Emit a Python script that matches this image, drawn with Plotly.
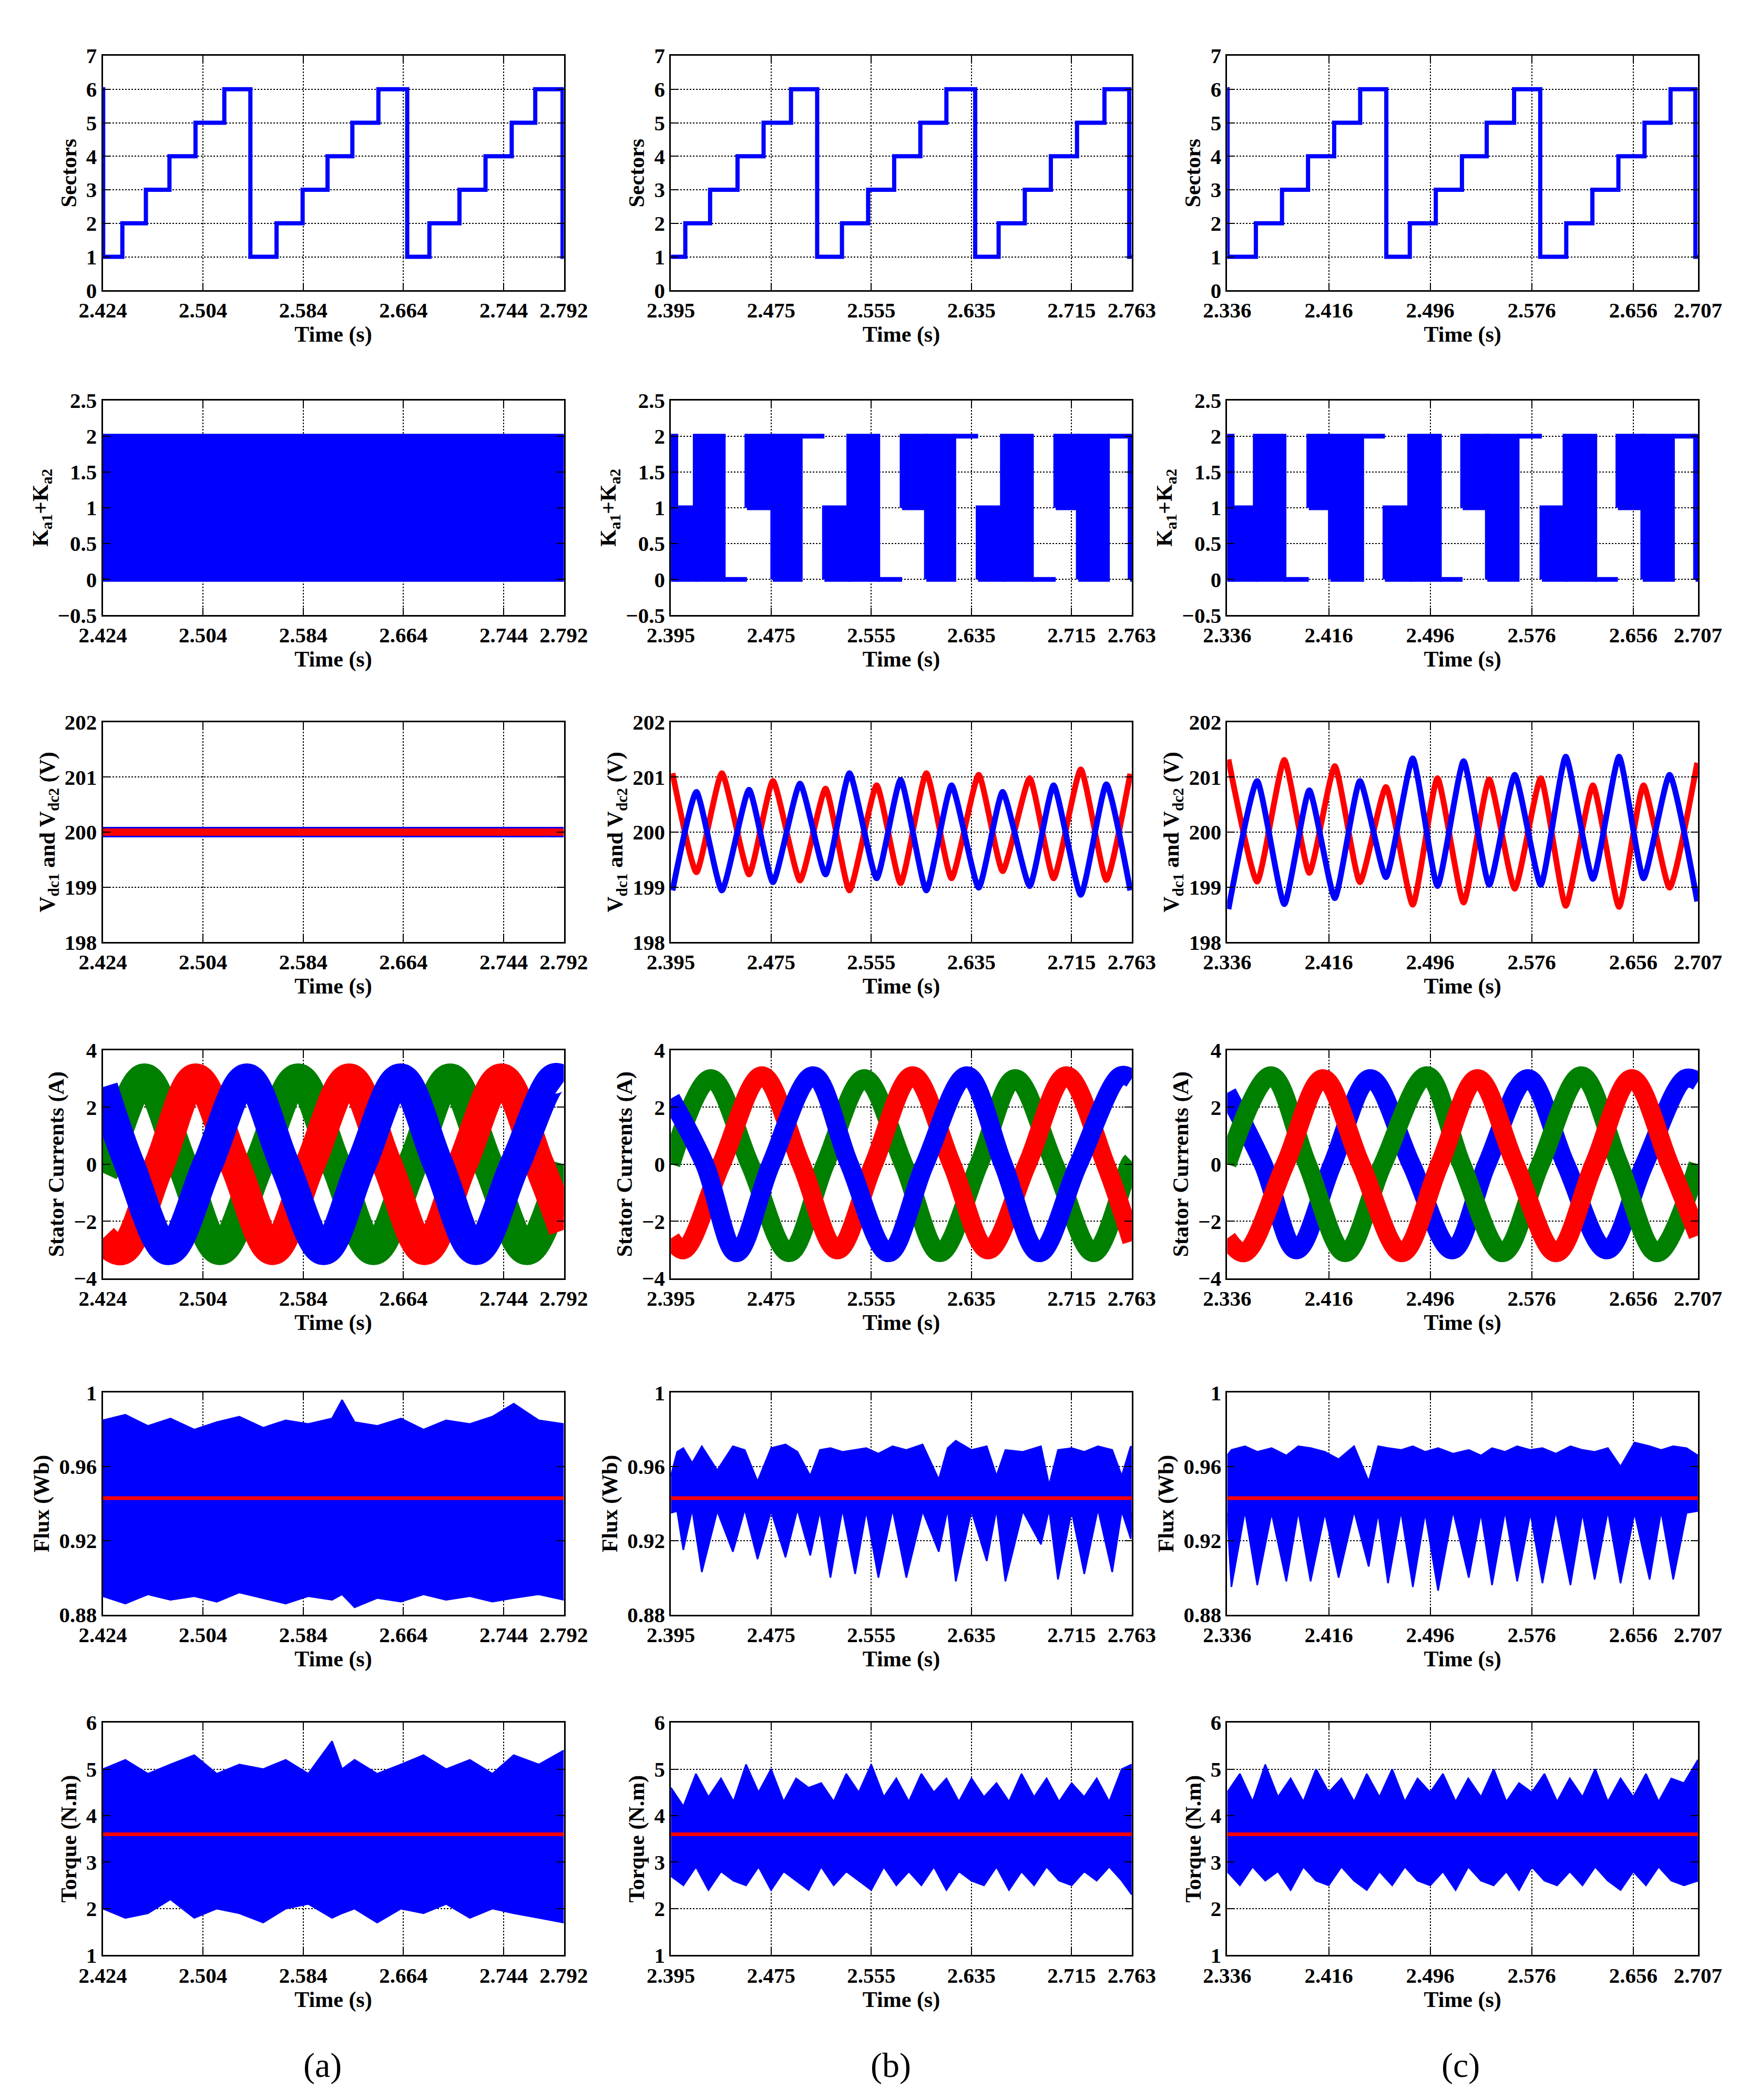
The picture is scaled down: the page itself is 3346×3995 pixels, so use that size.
import plotly.graph_objects as go
from plotly.subplots import make_subplots

# ---------------- DATA ----------------
x_ranges = [(2.424, 2.792), (2.395, 2.763), (2.336, 2.707)]
x_ticks = [[2.424, 2.504, 2.584, 2.664, 2.744, 2.792],
           [2.395, 2.475, 2.555, 2.635, 2.715, 2.763],
           [2.336, 2.416, 2.496, 2.576, 2.656, 2.707]]
panel_labels = ["(a)", "(b)", "(c)"]

# Sectors (step signal)
sec_a_t = [2.424, 2.4243, 2.4396, 2.4584, 2.4772, 2.498, 2.521, 2.5418, 2.5627, 2.5835, 2.6034, 2.6232, 2.644, 2.667, 2.6847, 2.7087, 2.7295, 2.7504, 2.7692, 2.791, 2.792]
sec_a_v = [6, 1, 2, 3, 4, 5, 6, 1, 2, 3, 4, 5, 6, 1, 2, 3, 4, 5, 6, 1, 1]
sec_b_t = [2.395, 2.4065, 2.4263, 2.4482, 2.469, 2.4909, 2.5118, 2.5316, 2.5525, 2.5733, 2.5942, 2.6150, 2.6380, 2.6567, 2.6776, 2.6984, 2.7193, 2.7412, 2.761, 2.763]
sec_b_v = [1, 2, 3, 4, 5, 6, 1, 2, 3, 4, 5, 6, 1, 2, 3, 4, 5, 6, 1, 1]
sec_c_t = [2.336, 2.3363, 2.3586, 2.3792, 2.3997, 2.4203, 2.4408, 2.4614, 2.4799, 2.5004, 2.521, 2.5405, 2.5621, 2.5827, 2.6032, 2.6238, 2.6443, 2.6649, 2.6854, 2.705, 2.707]
sec_c_v = [6, 1, 2, 3, 4, 5, 6, 1, 2, 3, 4, 5, 6, 1, 2, 3, 4, 5, 6, 1, 1]

# Ka1+Ka2 segments: start, end, low, high (filled switching band between low and high)
ka_a_start = [2.424]
ka_a_end = [2.792]
ka_a_lo = [0]
ka_a_hi = [2]
ka_b_start = [2.395, 2.3989, 2.4144, 2.4368, 2.4557, 2.4763, 2.4983, 2.5176, 2.5370, 2.5602, 2.5796, 2.5990, 2.6209, 2.6403, 2.6597, 2.6829, 2.7023, 2.7203, 2.7436, 2.7617]
ka_b_end = [2.3989, 2.4144, 2.4368, 2.4557, 2.4763, 2.4983, 2.5176, 2.5370, 2.5602, 2.5796, 2.5990, 2.6209, 2.6403, 2.6597, 2.6829, 2.7023, 2.7203, 2.7436, 2.7617, 2.763]
ka_b_lo = [0, 0, 0, 0, 1, 0, 2, 0, 0, 0, 1, 0, 2, 0, 0, 0, 1, 0, 2, 0]
ka_b_hi = [2, 1, 2, 0, 2, 2, 2, 1, 2, 0, 2, 2, 2, 1, 2, 0, 2, 2, 2, 2]
ka_c_start = [2.336, 2.3399, 2.3581, 2.3808, 2.4003, 2.4173, 2.4420, 2.4603, 2.4798, 2.5032, 2.5215, 2.5410, 2.5645, 2.5840, 2.6022, 2.6257, 2.6439, 2.6635, 2.6869, 2.7051]
ka_c_end = [2.3399, 2.3581, 2.3808, 2.4003, 2.4173, 2.4420, 2.4603, 2.4798, 2.5032, 2.5215, 2.5410, 2.5645, 2.5840, 2.6022, 2.6257, 2.6439, 2.6635, 2.6869, 2.7051, 2.707]
ka_c_lo = [0, 0, 0, 0, 1, 0, 2, 0, 0, 0, 1, 0, 2, 0, 0, 0, 1, 0, 2, 0]
ka_c_hi = [2, 1, 2, 0, 2, 2, 2, 1, 2, 0, 2, 2, 2, 1, 2, 0, 2, 2, 2, 2]

# DC-link voltages
vdc_a_t = [2.424, 2.500, 2.600, 2.700, 2.792]
vdc_a_v1 = [200.0, 200.0, 200.0, 200.0, 200.0]
vdc_a_v2 = [200.0, 200.0, 200.0, 200.0, 200.0]
vdc_b_t = [2.3963, 2.4154, 2.4357, 2.4574, 2.4765, 2.4981, 2.5185, 2.5376, 2.5593, 2.5784, 2.5990, 2.6191, 2.6408, 2.6599, 2.6815, 2.7006, 2.7223, 2.7427, 2.7618]
vdc_b_red = [201.07, 199.27, 201.07, 199.23, 200.93, 199.12, 200.79, 198.94, 200.85, 199.07, 201.07, 199.16, 201.04, 199.29, 200.98, 199.16, 201.14, 199.13, 201.06]
vdc_b_blue = [198.94, 200.73, 198.94, 200.77, 199.09, 200.88, 199.23, 201.07, 199.16, 200.95, 198.94, 200.85, 198.99, 200.73, 199.02, 200.85, 198.86, 200.87, 198.94]
vdc_c_t = [2.3370, 2.3596, 2.3810, 2.4007, 2.4208, 2.4406, 2.4611, 2.4822, 2.5017, 2.5223, 2.5425, 2.5626, 2.5831, 2.6028, 2.6242, 2.6448, 2.6641, 2.6846, 2.7064]
vdc_c_red = [201.32, 199.10, 201.31, 199.26, 201.20, 199.09, 200.82, 198.68, 200.98, 198.72, 200.96, 198.97, 200.98, 198.66, 200.85, 198.64, 200.85, 198.99, 201.26]
vdc_c_blue = [198.60, 200.93, 198.69, 200.76, 198.80, 200.93, 199.18, 201.34, 199.02, 201.29, 199.04, 201.04, 199.04, 201.37, 199.15, 201.37, 199.16, 201.04, 198.74]

# Stator currents (extrema and zero crossings)
ia_blue_t = [2.4240, 2.4452, 2.4764, 2.5077, 2.5390, 2.5690, 2.6003, 2.6303, 2.6616, 2.6917, 2.7217, 2.7530, 2.7843, 2.7920]
ia_blue_v = [2.7, 0, -3, 0, 3, 0, -3, 0, 3, 0, -3, 0, 3, 2.9]
ia_green_t = [2.4240, 2.4271, 2.4572, 2.4873, 2.5173, 2.5486, 2.5798, 2.6099, 2.6400, 2.6712, 2.7013, 2.7314, 2.7626, 2.7920]
ia_green_v = [-0.3, 0, 3, 0, -3, 0, 3, 0, -3, 0, 3, 0, -3, 0]
ia_red_t = [2.4240, 2.4392, 2.4692, 2.4981, 2.5293, 2.5594, 2.5895, 2.6207, 2.6508, 2.6808, 2.7109, 2.7422, 2.7722, 2.7920]
ia_red_v = [-2.6, -3, 0, 3, 0, -3, 0, 3, 0, -3, 0, 3, 0, -2.3]
ib_blue_t = [2.3950, 2.4220, 2.4472, 2.4749, 2.5086, 2.5375, 2.5688, 2.5977, 2.6314, 2.6603, 2.6891, 2.7204, 2.7541, 2.7630]
ib_blue_v = [2.3, 0, -3.1, 0, 3.1, 0, -3.1, 0, 3.1, 0, -3.1, 0, 3.1, 3.0]
ib_green_t = [2.3950, 2.4268, 2.4581, 2.4894, 2.5182, 2.5495, 2.5808, 2.6097, 2.6410, 2.6699, 2.7012, 2.7325, 2.7613, 2.7630]
ib_green_v = [0, 3.0, 0, -3.1, 0, 3.0, 0, -3.1, 0, 3.0, 0, -3.1, 0, 0.1]
ib_red_t = [2.3950, 2.4051, 2.4352, 2.4677, 2.4990, 2.5279, 2.5568, 2.5880, 2.6193, 2.6482, 2.6795, 2.7108, 2.7421, 2.7630]
ib_red_v = [-2.6, -3.0, 0, 3.1, 0, -3.0, 0, 3.1, 0, -3.0, 0, 3.1, 0, -2.7]
ic_blue_t = [2.3360, 2.3643, 2.3904, 2.4189, 2.4487, 2.4810, 2.5133, 2.5406, 2.5729, 2.6027, 2.6350, 2.6648, 2.6970, 2.7070]
ic_blue_v = [2.5, 0, -3.0, 0, 3.0, 0, -3.0, 0, 3.0, 0, -3.0, 0, 3.0, 2.9]
ic_green_t = [2.3360, 2.3705, 2.3991, 2.4289, 2.4587, 2.4934, 2.5207, 2.5530, 2.5828, 2.6151, 2.6449, 2.6747, 2.7070]
ic_green_v = [0, 3.1, 0, -3.1, 0, 3.1, 0, -3.1, 0, 3.1, 0, -3.1, 0]
ic_red_t = [2.3360, 2.3494, 2.3817, 2.4115, 2.4413, 2.4736, 2.5034, 2.5332, 2.5630, 2.5952, 2.6250, 2.6548, 2.6846, 2.7070]
ic_red_v = [-2.6, -3.1, 0, 3.0, 0, -3.1, 0, 3.0, 0, -3.1, 0, 3.0, 0, -2.5]

# Flux envelopes
flux_ref = 0.943
flux_a_t = [2.424, 2.442, 2.460, 2.478, 2.497, 2.515, 2.533, 2.552, 2.570, 2.588, 2.607, 2.615, 2.625, 2.643, 2.662, 2.680, 2.698, 2.717, 2.735, 2.752, 2.772, 2.792]
flux_a_hi = [0.985, 0.988, 0.982, 0.986, 0.980, 0.984, 0.987, 0.981, 0.985, 0.983, 0.986, 0.996, 0.984, 0.982, 0.986, 0.980, 0.985, 0.983, 0.987, 0.994, 0.985, 0.983]
flux_a_lo = [0.890, 0.886, 0.891, 0.888, 0.890, 0.887, 0.892, 0.889, 0.886, 0.890, 0.888, 0.891, 0.884, 0.889, 0.887, 0.891, 0.888, 0.890, 0.887, 0.889, 0.891, 0.888]
flux_b_t = [2.395, 2.400, 2.4049, 2.412, 2.4197, 2.432, 2.4445, 2.454, 2.4642, 2.475, 2.4865, 2.496, 2.5063, 2.514, 2.5224, 2.532, 2.5421, 2.551, 2.5607, 2.572, 2.5830, 2.596, 2.6089, 2.616, 2.6225, 2.635, 2.6472, 2.655, 2.6621, 2.676, 2.6905, 2.697, 2.7041, 2.715, 2.7251, 2.736, 2.7474, 2.755, 2.7622, 2.763]
flux_b_lo = [0.935, 0.936, 0.915, 0.937, 0.903, 0.936, 0.914, 0.937, 0.910, 0.936, 0.911, 0.937, 0.912, 0.936, 0.900, 0.937, 0.902, 0.936, 0.900, 0.937, 0.900, 0.936, 0.914, 0.937, 0.898, 0.936, 0.909, 0.937, 0.898, 0.936, 0.918, 0.937, 0.899, 0.936, 0.902, 0.937, 0.903, 0.936, 0.921, 0.935]
flux_b_hi = [0.955, 0.968, 0.970, 0.962, 0.971, 0.958, 0.971, 0.969, 0.952, 0.970, 0.972, 0.968, 0.955, 0.969, 0.970, 0.968, 0.969, 0.970, 0.967, 0.971, 0.969, 0.972, 0.953, 0.970, 0.974, 0.969, 0.971, 0.955, 0.969, 0.968, 0.971, 0.950, 0.969, 0.970, 0.968, 0.971, 0.969, 0.955, 0.971, 0.970]
flux_c_t = [2.336, 2.3393, 2.350, 2.3597, 2.371, 2.3826, 2.392, 2.4017, 2.413, 2.4238, 2.436, 2.4475, 2.455, 2.4627, 2.473, 2.4823, 2.492, 2.5022, 2.514, 2.5264, 2.536, 2.5447, 2.555, 2.5645, 2.575, 2.5844, 2.595, 2.6065, 2.616, 2.6256, 2.636, 2.6460, 2.657, 2.6689, 2.678, 2.6875, 2.698, 2.707]
flux_c_lo = [0.935, 0.895, 0.936, 0.896, 0.935, 0.898, 0.936, 0.898, 0.935, 0.900, 0.936, 0.906, 0.935, 0.897, 0.936, 0.895, 0.935, 0.893, 0.936, 0.900, 0.935, 0.896, 0.936, 0.898, 0.935, 0.897, 0.936, 0.896, 0.935, 0.899, 0.936, 0.897, 0.935, 0.899, 0.936, 0.899, 0.935, 0.936]
flux_c_hi = [0.966, 0.969, 0.971, 0.968, 0.970, 0.966, 0.971, 0.970, 0.968, 0.964, 0.971, 0.952, 0.971, 0.970, 0.969, 0.971, 0.968, 0.970, 0.967, 0.969, 0.966, 0.970, 0.968, 0.971, 0.969, 0.970, 0.967, 0.971, 0.969, 0.968, 0.970, 0.960, 0.973, 0.971, 0.969, 0.971, 0.970, 0.966]

# Torque envelopes
torque_ref = 3.6
tq_a_t = flux_a_t
tq_a_hi = [5.0, 5.2, 4.9, 5.1, 5.3, 4.9, 5.1, 5.0, 5.2, 4.9, 5.6, 5.0, 5.2, 4.9, 5.1, 5.3, 5.0, 5.2, 4.9, 5.3, 5.1, 5.4]
tq_a_lo = [2.0, 1.8, 1.9, 2.2, 1.8, 2.0, 1.9, 1.7, 2.0, 2.1, 1.8, 1.9, 2.0, 1.7, 2.0, 1.9, 2.1, 1.8, 2.0, 1.9, 1.8, 1.7]
tq_b_t = [2.395, 2.405, 2.415, 2.425, 2.435, 2.445, 2.455, 2.465, 2.475, 2.485, 2.495, 2.505, 2.515, 2.525, 2.535, 2.545, 2.555, 2.565, 2.575, 2.585, 2.595, 2.605, 2.615, 2.625, 2.635, 2.645, 2.655, 2.665, 2.675, 2.685, 2.695, 2.705, 2.715, 2.725, 2.735, 2.745, 2.755, 2.763]
tq_b_hi = [4.6, 4.2, 4.9, 4.4, 4.8, 4.3, 5.1, 4.5, 5.0, 4.3, 4.8, 4.6, 4.7, 4.3, 4.9, 4.5, 5.1, 4.4, 4.8, 4.3, 4.9, 4.5, 4.8, 4.3, 4.8, 4.4, 4.7, 4.3, 4.9, 4.4, 4.8, 4.3, 4.7, 4.4, 4.8, 4.3, 5.0, 5.1]
tq_b_lo = [2.7, 2.5, 2.9, 2.4, 2.8, 2.6, 2.5, 2.9, 2.4, 2.8, 2.6, 2.4, 2.9, 2.5, 2.8, 2.6, 2.4, 2.9, 2.5, 2.8, 2.5, 2.9, 2.4, 2.8, 2.6, 2.5, 2.9, 2.4, 2.8, 2.5, 2.9, 2.6, 2.5, 2.8, 2.6, 2.9, 2.6, 2.3]
tq_c_t = [2.336, 2.346, 2.356, 2.366, 2.376, 2.386, 2.396, 2.406, 2.416, 2.426, 2.436, 2.446, 2.456, 2.466, 2.476, 2.486, 2.496, 2.506, 2.516, 2.526, 2.536, 2.546, 2.556, 2.566, 2.576, 2.586, 2.596, 2.606, 2.616, 2.626, 2.636, 2.646, 2.656, 2.666, 2.676, 2.686, 2.696, 2.707]
tq_c_hi = [4.5, 4.9, 4.3, 5.1, 4.4, 4.8, 4.3, 5.0, 4.5, 4.8, 4.3, 4.9, 4.4, 5.0, 4.3, 4.8, 4.5, 4.9, 4.3, 4.8, 4.4, 5.0, 4.3, 4.7, 4.5, 4.9, 4.3, 4.8, 4.4, 5.0, 4.3, 4.8, 4.4, 4.9, 4.3, 4.8, 4.7, 5.2]
tq_c_lo = [2.8, 2.5, 2.9, 2.6, 2.8, 2.4, 2.9, 2.6, 2.5, 2.9, 2.6, 2.4, 2.8, 2.5, 2.9, 2.6, 2.5, 2.8, 2.4, 2.9, 2.6, 2.5, 2.8, 2.4, 2.9, 2.6, 2.5, 2.8, 2.5, 2.9, 2.6, 2.4, 2.8, 2.5, 2.9, 2.6, 2.5, 2.6]

# ---------------- FIGURE ----------------
BLUE, RED, GREEN = "#0000FF", "#FF0000", "#008000"
FONT = "Liberation Serif"
fig = make_subplots(rows=6, cols=3)


def add(tr, r, c):
    fig.add_trace(tr, row=r, col=c)


def band(t, lo, hi, r, c, color=BLUE):
    add(go.Scatter(x=t, y=lo, mode="lines", line=dict(color=color, width=3), showlegend=False), r, c)
    add(go.Scatter(x=t, y=hi, mode="lines", line=dict(color=color, width=3), fill="tonexty",
                   fillcolor=color, showlegend=False), r, c)


def ka(starts, ends, los, his, c):
    xs, ys = [], []
    for s, e, lo, hi in zip(starts, ends, los, his):
        xs += [s, e, e, s, s, None]
        ys += [lo, lo, hi, hi, lo, None]
    add(go.Scatter(x=xs, y=ys, mode="lines", fill="toself", fillcolor=BLUE,
                   line=dict(color=BLUE, width=9), showlegend=False), 2, c)


# row 1 sectors
for c, (t, v) in enumerate([(sec_a_t, sec_a_v), (sec_b_t, sec_b_v), (sec_c_t, sec_c_v)], start=1):
    add(go.Scatter(x=t, y=v, mode="lines", line=dict(color=BLUE, width=8, shape="hv"), showlegend=False), 1, c)
# row 2 Ka
ka(ka_a_start, ka_a_end, ka_a_lo, ka_a_hi, 1)
ka(ka_b_start, ka_b_end, ka_b_lo, ka_b_hi, 2)
ka(ka_c_start, ka_c_end, ka_c_lo, ka_c_hi, 3)
# row 3 Vdc
add(go.Scatter(x=vdc_a_t, y=vdc_a_v1, mode="lines", line=dict(color=BLUE, width=20), showlegend=False), 3, 1)
add(go.Scatter(x=vdc_a_t, y=vdc_a_v2, mode="lines", line=dict(color=RED, width=14), showlegend=False), 3, 1)
for c, (t, rv, bv) in enumerate([(vdc_b_t, vdc_b_red, vdc_b_blue), (vdc_c_t, vdc_c_red, vdc_c_blue)], start=2):
    add(go.Scatter(x=t, y=rv, mode="lines", line=dict(color=RED, width=11, shape="spline", smoothing=0.5), showlegend=False), 3, c)
    add(go.Scatter(x=t, y=bv, mode="lines", line=dict(color=BLUE, width=11, shape="spline", smoothing=0.5), showlegend=False), 3, c)
# row 4 currents
cur = [
    (1, [(ia_green_t, ia_green_v, GREEN), (ia_red_t, ia_red_v, RED), (ia_blue_t, ia_blue_v, BLUE)], 58),
    (2, [(ib_green_t, ib_green_v, GREEN), (ib_red_t, ib_red_v, RED), (ib_blue_t, ib_blue_v, BLUE)], 36),
    (3, [(ic_blue_t, ic_blue_v, BLUE), (ic_green_t, ic_green_v, GREEN), (ic_red_t, ic_red_v, RED)], 36),
]
for c, series, w in cur:
    for t, v, col in series:
        add(go.Scatter(x=t, y=v, mode="lines", line=dict(color=col, width=w, shape="spline", smoothing=1.0), showlegend=False), 4, c)
# row 5 flux
band(flux_a_t, flux_a_lo, flux_a_hi, 5, 1)
band(flux_b_t, flux_b_lo, flux_b_hi, 5, 2)
band(flux_c_t, flux_c_lo, flux_c_hi, 5, 3)
for c in range(1, 4):
    xr = x_ranges[c - 1]
    add(go.Scatter(x=[xr[0], xr[1]], y=[flux_ref, flux_ref], mode="lines", line=dict(color=RED, width=7), showlegend=False), 5, c)
# row 6 torque
band(tq_a_t, tq_a_lo, tq_a_hi, 6, 1)
band(tq_b_t, tq_b_lo, tq_b_hi, 6, 2)
band(tq_c_t, tq_c_lo, tq_c_hi, 6, 3)
for c in range(1, 4):
    xr = x_ranges[c - 1]
    add(go.Scatter(x=[xr[0], xr[1]], y=[torque_ref, torque_ref], mode="lines", line=dict(color=RED, width=7), showlegend=False), 6, c)

# axes
col_dom = [[0.0435, 0.313], [0.3756, 0.645], [0.7008, 0.976]]
row_dom = [[0.868, 0.981], [0.7115, 0.815], [0.554, 0.660], [0.392, 0.502], [0.230, 0.337], [0.066, 0.178]]
y_specs = [
    ("Sectors", [0, 7], [0, 1, 2, 3, 4, 5, 6, 7], None),
    ("K<sub>a1</sub>+K<sub>a2</sub>", [-0.5, 2.5], [-0.5, 0, 0.5, 1, 1.5, 2, 2.5], ["−0.5", "0", "0.5", "1", "1.5", "2", "2.5"]),
    ("V<sub>dc1</sub> and V<sub>dc2</sub> (V)", [198, 202], [198, 199, 200, 201, 202], None),
    ("Stator Currents (A)", [-4, 4], [-4, -2, 0, 2, 4], ["−4", "−2", "0", "2", "4"]),
    ("Flux (Wb)", [0.88, 1.0], [0.88, 0.92, 0.96, 1.0], ["0.88", "0.92", "0.96", "1"]),
    ("Torque (N.m)", [1, 6], [1, 2, 3, 4, 5, 6], None),
]
tickfont = dict(family=FONT, size=41, color="black")
titlefont = dict(family=FONT, size=42, color="black")
for r in range(1, 7):
    ttl, yr, yt, ytt = y_specs[r - 1]
    for c in range(1, 4):
        xr = x_ranges[c - 1]
        fig.update_xaxes(row=r, col=c, domain=col_dom[c - 1], range=list(xr),
                         tickvals=x_ticks[c - 1], ticktext=["<b>%.3f</b>" % v for v in x_ticks[c - 1]],
                         tickfont=tickfont, ticks="inside", ticklen=14, tickwidth=2, tickcolor="black",
                         showline=True, linecolor="black", linewidth=3, mirror="ticks",
                         showgrid=True, gridcolor="black", gridwidth=2, griddash="dot", zeroline=False,
                         title=dict(text="<b>Time (s)</b>", font=titlefont, standoff=2))
        fig.update_yaxes(row=r, col=c, domain=row_dom[r - 1], range=yr,
                         tickvals=yt, ticktext=["<b>%s</b>" % s for s in (ytt if ytt else [str(v) for v in yt])],
                         tickfont=tickfont, ticks="inside", ticklen=14, tickwidth=2, tickcolor="black",
                         showline=True, linecolor="black", linewidth=3, mirror="ticks",
                         showgrid=True, gridcolor="black", gridwidth=2, griddash="dot", zeroline=False,
                         title=dict(text="<b>%s</b>" % ttl, font=titlefont, standoff=6))

for i, lab in enumerate(panel_labels):
    fig.add_annotation(x=[0.160, 0.504, 0.849][i], y=0.003, xref="paper", yref="paper",
                       text=lab, showarrow=False, yanchor="bottom", font=dict(family=FONT, size=66, color="black"))

fig.update_layout(width=3346, height=3995, margin=dict(l=0, r=0, t=0, b=0),
                  paper_bgcolor="white", plot_bgcolor="white", showlegend=False)
fig.write_html("out.html")
